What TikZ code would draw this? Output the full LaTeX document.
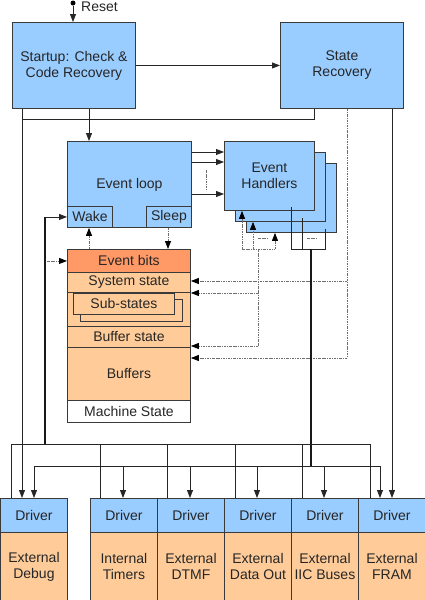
\documentclass[tikz,border=0pt]{standalone}
\usepackage{fontspec}
\setmainfont{Liberation Sans}
\usetikzlibrary{arrows.meta,calc}
\definecolor{cblue}{HTML}{99CCFF}
\definecolor{corange}{HTML}{FF9966}
\definecolor{cpeach}{HTML}{FFCC99}
\definecolor{cline}{HTML}{3A3A3A}
\definecolor{cdot}{HTML}{6E6E6E}
\tikzset{
  lbl/.style={font=\fontsize{14pt}{16pt}\selectfont, text=black!85},
  box/.style={lbl, draw=cline, line width=0.9pt, fill=cblue, inner sep=0pt, align=center, anchor=north west},
  pbox/.style={box, fill=cpeach},
  ln/.style={line width=0.8pt, draw=black!85},
  arr/.style={ln, -{Triangle[length=8pt,width=6pt]}},
  thk/.style={line width=2.4pt, draw=black!90},
  dot/.style={line width=0.8pt, draw=cdot, dash pattern=on 2.5pt off 1pt on 0.8pt off 1pt},
  darr/.style={dot, -{Triangle[length=8pt,width=6pt,color=black]}},
}
\begin{document}
\begin{tikzpicture}[x=1pt,y=-1pt]
\useasboundingbox (0,0) rectangle (425,600);
% top boxes
\node[box, minimum width=123pt, minimum height=86pt] (startup) at (12,22) {Startup: Check \&\\Code Recovery};
\node[box, minimum width=123pt, minimum height=86pt] (staterec) at (280,22) {State\\Recovery};
% event loop
\node[box, minimum width=124pt, minimum height=86pt] (eventloop) at (67,141) {Event loop};
\node[box, minimum width=45pt, minimum height=21pt] (wake) at (67,206) {Wake};
\node[box, minimum width=45pt, minimum height=21pt] (sleep) at (146,206) {Sleep};
% handlers
\node[box, minimum width=90pt, minimum height=69pt] (h3) at (246,163) {};
\node[box, minimum width=90pt, minimum height=69pt] (h2) at (235,152) {};
\node[box, minimum width=90pt, minimum height=69pt] (h1) at (224,141) {Event\\Handlers};
% machine state
\node[box, fill=corange, minimum width=123pt, minimum height=23pt] (eventbits) at (67,249) {Event bits};
\node[pbox, minimum width=123pt, minimum height=20pt] (sysstate) at (67,272) {System state};
\node[pbox, minimum width=123pt, minimum height=34pt] (subreg) at (67,292) {};
\node[pbox, minimum width=102pt, minimum height=22pt] (subs2) at (80,299) {};
\node[pbox, minimum width=101pt, minimum height=21pt] (subs1) at (73,293) {Sub-states};
\node[pbox, minimum width=123pt, minimum height=21pt] (bufstate) at (67,326) {Buffer state};
\node[pbox, minimum width=123pt, minimum height=53pt] (buffers) at (67,347) {Buffers};
\node[box, fill=white, minimum width=123pt, minimum height=22pt] (machine) at (67,400) {Machine State};
% drivers
\foreach \i/\x/\t in {1/0/{External\\Debug},2/90/{Internal\\Timers},3/157/{External\\DTMF},4/224/{External\\Data Out},5/291/{External\\IIC Buses},6/358/{External\\FRAM}}{
  \node[box, minimum width=67pt, minimum height=34pt] (drv\i) at (\x,498) {Driver};
  \node[pbox, minimum width=67pt, minimum height=68pt] (dev\i) at (\x,532) {\t};
}
% reset
\node[circle, fill=black, inner sep=0pt, minimum size=5pt] (rdot) at (73,3) {};
\node[lbl, anchor=west, inner sep=0pt] (rlbl) at (81,7) {Reset};
\draw[arr] (rdot) -- (rdot |- startup.north);
% startup connections
\draw[arr] (startup.east) -- (staterec.west);
\coordinate (c89) at (89,0);
\draw[arr] (startup.south -| c89) -- (eventloop.north -| c89);
\coordinate (c22) at (22,119);
\draw[arr] (startup.south -| c22) -- (drv1.north -| c22);
\coordinate (c314) at (314,119);
\draw[ln] (staterec.south -| c314) -- (c314) -- (c22);
\coordinate (c392) at (392,0);
\draw[arr] (staterec.south -| c392) -- (drv6.north -| c392);
% state recovery dotted
\coordinate (r281) at (347,281);
\coordinate (r358) at (347,358);
\draw[dot] (staterec.south -| r281) -- (r358);
\draw[darr] (r281) -- (r281 -| sysstate.east);
\draw[darr] (r358) -- (r358 -| buffers.east);
% event loop -> handlers
\foreach \d in {11,21,53}
  \draw[arr] ([yshift=-\d pt]eventloop.north east) -- ([yshift=-\d pt]h1.north west);
\draw[dot] (206,170) -- (206,190);
% wake line
\coordinate (busA) at (45,444);
\draw[thk] (busA) -- (wake.west -| busA);
\draw[arr] (wake.west -| busA) -- (wake.west);
\coordinate (c47) at (47,0);
\draw[darr] (eventbits.west -| c47) -- (eventbits.west);
\draw[darr] (eventbits.north -| c89) -- (wake.south -| c89);
\coordinate (c168) at (168,0);
\draw[darr] (sleep.south -| c168) -- (eventbits.north -| c168);
% handler dotted bracket
\coordinate (hb1) at (242,249);
\coordinate (hb2) at (253,249);
\coordinate (hb3) at (275,249);
\coordinate (hb0) at (258,249);
\draw[dot] (hb1) -- (hb3);
\draw[darr] (hb1) -- (hb1 |- h1.south);
\draw[darr] (hb2) -- (hb2 |- h2.south);
\draw[darr] (hb3) -- (hb3 |- h3.south);
\draw[dot] (258,238) -- (268,238);
\coordinate (l293) at (258,293);
\coordinate (l346) at (258,346);
\draw[dot] (hb0) -- (l346);
\draw[darr] (l293) -- (l293 -| subreg.east);
\draw[darr] (l346) -- (l346 -| bufstate.east);
% handler solid bracket
\coordinate (sb1) at (291,249);
\coordinate (sb2) at (302,249);
\coordinate (sb3) at (325,249);
\coordinate (sb0) at (311,249);
\draw[ln] ($(h1.south -| sb1)+(0,-4)$) -- (sb1) -- (sb3) -- ($(h3.south -| sb3)+(0,-4)$);
\draw[ln] ($(h2.south -| sb2)+(0,-4)$) -- (sb2);
\draw[dot] (307,238) -- (317,238);
\coordinate (busB) at (311,466);
\draw[thk] (sb0) -- (busB);
% bus A
\draw[ln] (11,444) -- (370,444);
\foreach \x/\d in {11/1,100/2,167/3,235/4,302/5,370/6}{
  \coordinate (ba\d) at (\x,444);
  \draw[ln] (ba\d) -- (ba\d |- drv\d.north);
}
% bus B
\draw[ln] (34,466) -- (380,466);
\foreach \x/\d in {34/1,123/2,190/3,257/4,324/5,380/6}{
  \coordinate (bb\d) at (\x,466);
  \draw[arr] (bb\d) -- (bb\d |- drv\d.north);
}
\end{tikzpicture}
\end{document}
